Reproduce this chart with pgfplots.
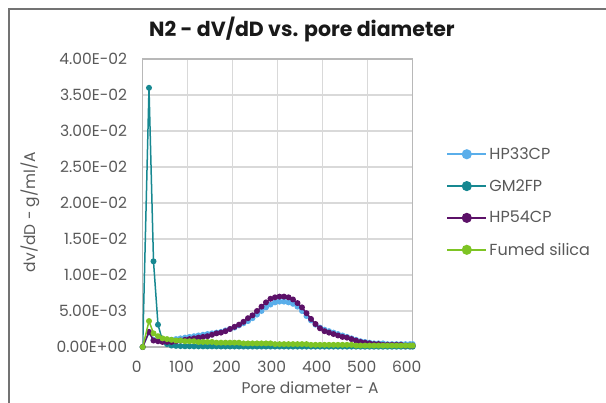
\documentclass[border=0pt]{standalone}
\usepackage{fontspec}
\setmainfont{Poppins}
\usepackage{pgfplots}
\usepackage{pgfplotstable}
\pgfplotsset{compat=1.18}
\definecolor{cHPthree}{HTML}{5AAEEA}
\definecolor{cGM}{HTML}{178891}
\definecolor{cHPfive}{HTML}{5C1168}
\definecolor{cFumed}{HTML}{7EC424}
\definecolor{txtgray}{HTML}{595959}
\definecolor{gridgray}{HTML}{D9D9D9}
\pgfplotstableread{
x hp33 gm2 hp54 fumed
0 0 0 0 0
14 0.0020 0.0360 0.0021 0.0036
24 0.0010 0.0119 0.0009 0.0019
34 0.0009 0.0031 0.0008 0.0015
44 0.0009 0.0009 0.0007 0.0012
54 0.0009 0.0004 0.0007 0.0011
64 0.0010 0.0002 0.0007 0.0010
74 0.0011 0.00015 0.0008 0.0009
84 0.0012 0.00012 0.0009 0.0009
94 0.0013 0.00010 0.0010 0.0008
104 0.0014 0.00010 0.0011 0.0008
114 0.0015 0.00009 0.0012 0.0008
124 0.0016 0.00009 0.0013 0.0007
134 0.0017 0.00008 0.0014 0.0007
144 0.0018 0.00008 0.0015 0.0007
154 0.0019 0.00008 0.0017 0.0007
164 0.0020 0.00008 0.0019 0.0006
174 0.0021 0.00007 0.0020 0.0006
184 0.0023 0.00007 0.0022 0.0006
194 0.0025 0.00007 0.0025 0.0006
204 0.0027 0.00007 0.0028 0.0006
214 0.0030 0.00007 0.0031 0.0006
224 0.0033 0.00006 0.0035 0.0005
234 0.0036 0.00006 0.0040 0.0005
244 0.0040 0.00006 0.0044 0.0005
254 0.0045 0.00006 0.0050 0.0005
264 0.0050 0.00006 0.0056 0.0005
274 0.0055 0.00006 0.0062 0.0005
284 0.0059 0.00006 0.0067 0.0005
294 0.0062 0.00006 0.0069 0.0004
304 0.0063 0.00006 0.0070 0.0004
314 0.0063 0.00006 0.0070 0.0004
324 0.0062 0.00005 0.0069 0.0004
334 0.0060 0.00005 0.0066 0.0004
344 0.0056 0.00005 0.0061 0.0004
354 0.0050 0.00005 0.0055 0.0004
364 0.0043 0.00005 0.0047 0.0004
374 0.0037 0.00005 0.0039 0.0003
384 0.0031 0.00005 0.0032 0.0003
394 0.0027 0.00005 0.0026 0.0003
404 0.0024 0.00005 0.0022 0.0003
414 0.0022 0.00005 0.0020 0.0003
424 0.0020 0.00005 0.0018 0.0003
434 0.0018 0.00005 0.0016 0.0003
444 0.0016 0.00005 0.0014 0.0003
454 0.0014 0.00005 0.0013 0.0003
464 0.0012 0.00005 0.0011 0.0003
474 0.0010 0.00005 0.0009 0.0002
484 0.0008 0.00004 0.0007 0.0002
494 0.0007 0.00004 0.0006 0.0002
504 0.0006 0.00004 0.0005 0.0002
514 0.0005 0.00004 0.0004 0.0002
524 0.0005 0.00004 0.0004 0.0002
534 0.0005 0.00004 0.0003 0.0002
544 0.0004 0.00004 0.0003 0.0002
554 0.0004 0.00004 0.0003 0.0002
564 0.0004 0.00004 0.0003 0.0002
574 0.0004 0.00004 0.0003 0.0002
584 0.0004 0.00004 0.0002 0.0002
594 0.0004 0.00004 0.0002 0.0002
600 0.0004 0.00004 0.0002 0.0002
}\datatable
\begin{document}
\begin{tikzpicture}
\useasboundingbox (-142.7bp,-56bp) rectangle (463.3bp,347bp);
\draw[color=black!55, line width=1.5bp] (-133.7bp,-56bp) -- (-133.7bp,338bp) -- (463.3bp,338bp);
\begin{axis}[
  scale only axis,
  width=270bp, height=288bp,
  xmin=0, xmax=600, ymin=0, ymax=0.04,
  xtick={0,100,200,300,400,500,600},
  xticklabels={0,100,200,300,400,500,600},
  ytick={0,0.005,0.01,0.015,0.02,0.025,0.03,0.035,0.04},
  yticklabels={0.00E+00,5.00E-03,1.00E-02,1.50E-02,2.00E-02,2.50E-02,3.00E-02,3.50E-02,4.00E-02},
  scaled y ticks=false,
  major tick length=0pt,
  grid=major,
  major grid style={color=gridgray, line width=1.2bp},
  axis line style={color=gridgray!85!black, line width=1.2bp},
  tick label style={font=\fontsize{15.5bp}{18bp}\selectfont, text=txtgray},
  yticklabel style={anchor=east, inner sep=0pt, xshift=-15.5bp},
  xticklabel style={anchor=center, inner sep=0pt, yshift=-19.5bp, xshift=-6bp},
  title={N2 - dV/dD vs. pore diameter},
  title style={at={(axis description cs:0.59,1.0833)}, anchor=center, font=\fontsize{20.5bp}{24bp}\selectfont\bfseries, text=black!90},
  xlabel={Pore diameter - A},
  xlabel style={at={(axis description cs:0.62,-0.1424)}, anchor=center, font=\fontsize{15.5bp}{18bp}\selectfont, text=txtgray},
  ylabel={dv/dD - g/ml/A},
  ylabel style={at={(axis description cs:-0.4174,0.469)}, anchor=center, rotate=0, font=\fontsize{15.5bp}{18bp}\selectfont, text=txtgray},
  legend style={at={(axis description cs:1.123,0.70)}, anchor=north west, draw=none, fill=none,
    font=\fontsize{16bp}{19bp}\selectfont, text=txtgray, row sep=14.6bp, inner sep=0pt,
    /tikz/every even column/.append style={column sep=0pt}},
  legend cell align=left,
  legend image code/.code={\draw[mark size=3.8bp, line width=2.4bp, mark repeat=2, mark phase=2] plot coordinates {(0bp,0bp) (19.5bp,0bp) (39bp,0bp)};},
  every axis plot/.append style={line width=1.5bp, mark=*, mark size=2.2bp},
  clip mode=individual,
]
\addplot[color=cHPthree, mark options={fill=cHPthree, draw=cHPthree}] table[x=x, y=hp33] {\datatable};
\addlegendentry{HP33CP}
\addplot[color=cGM, mark options={fill=cGM, draw=cGM}] table[x=x, y=gm2] {\datatable};
\addlegendentry{GM2FP}
\addplot[color=cHPfive, mark options={fill=cHPfive, draw=cHPfive}] table[x=x, y=hp54] {\datatable};
\addlegendentry{HP54CP}
\addplot[color=cFumed, mark options={fill=cFumed, draw=cFumed}] table[x=x, y=fumed] {\datatable};
\addlegendentry{Fumed silica}
\end{axis}
\end{tikzpicture}
\end{document}
